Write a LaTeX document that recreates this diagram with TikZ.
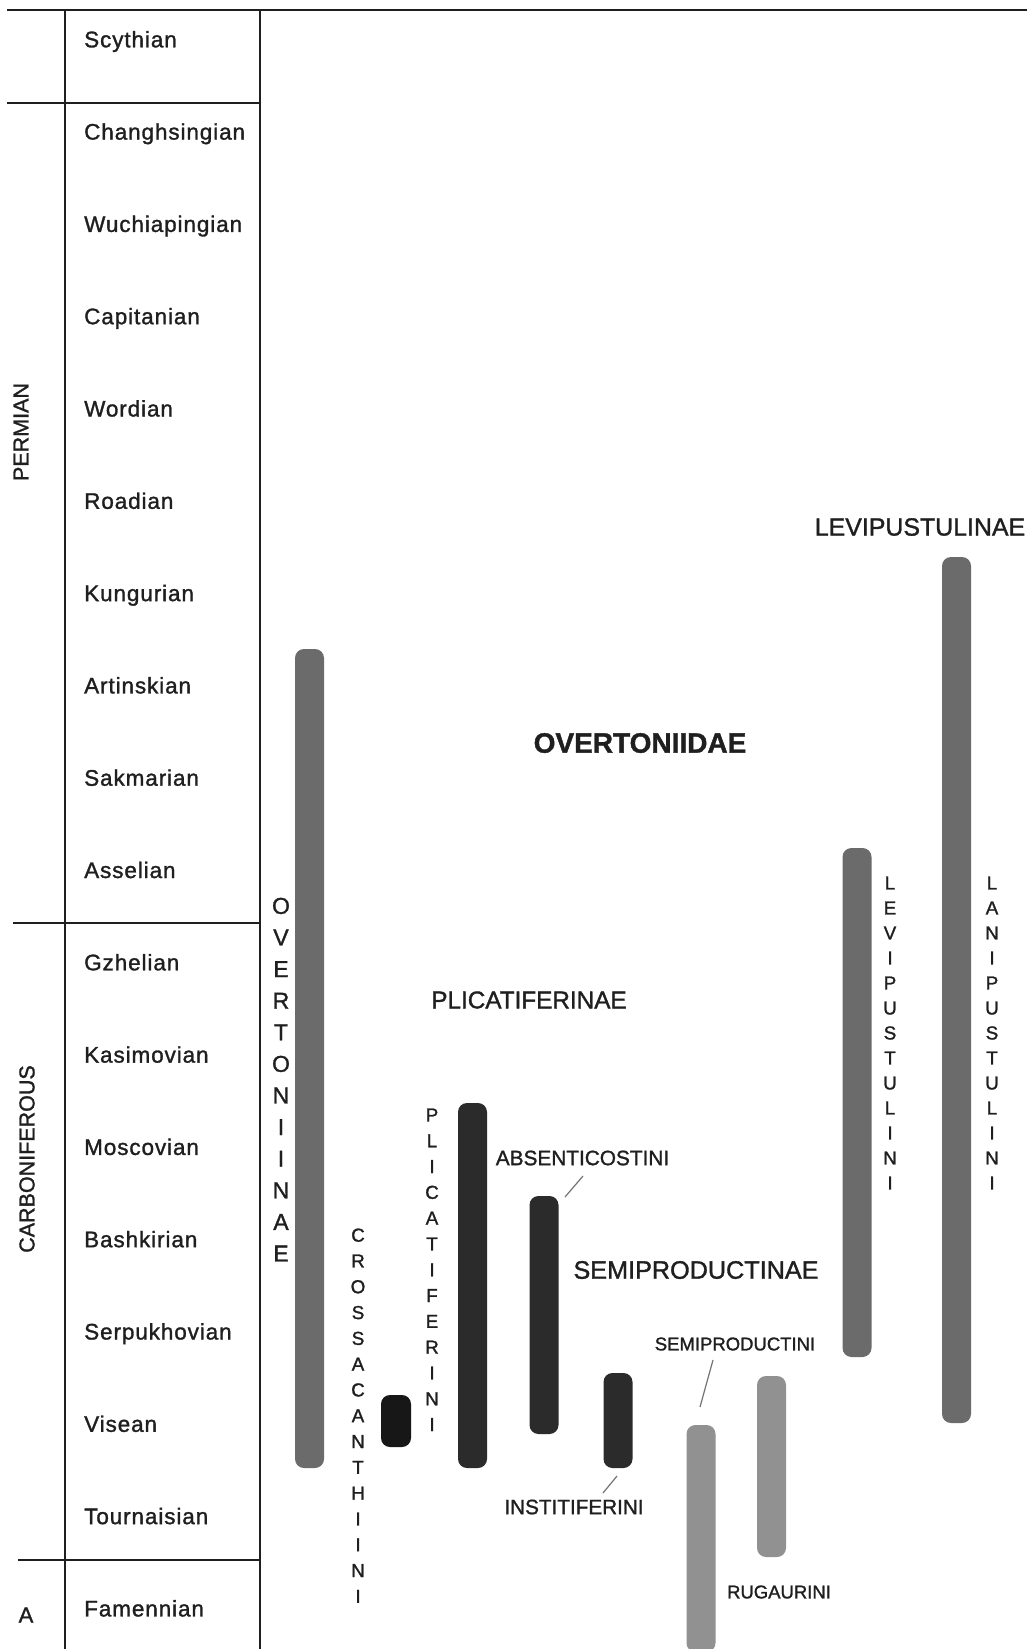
\documentclass[tikz,border=0pt]{standalone}
\usepackage{fontspec}
\setmainfont{Liberation Sans}[FakeBold=1.3]
\newfontfamily\stagefont{Liberation Sans}[LetterSpace=4, FakeBold=1.3]
\usetikzlibrary{positioning}

\definecolor{inkgray}{gray}{0.12}
\definecolor{midbar}{gray}{0.42}
\definecolor{darkbar}{gray}{0.17}
\definecolor{blackbar}{gray}{0.09}
\definecolor{lightbar}{gray}{0.57}
\definecolor{leadgray}{gray}{0.45}

\tikzset{
  rule/.style={line width=1.6pt, inkgray},
  stage/.style={anchor=base west, inner sep=0pt, text=inkgray, font=\stagefont\fontsize{22.5}{27}\selectfont},
  system/.style={rotate=90, inner sep=0pt, text=inkgray, font=\fontsize{21.5}{26}\selectfont},
  bar/.style={rounded corners=9pt, inner sep=0pt, minimum width=29pt},
  stack/.style={anchor=north, align=center, inner sep=0pt, text=inkgray},
  taxon/.style={inner sep=0pt, text=inkgray},
  leader/.style={leadgray, line width=1.2pt}
}

\begin{document}
\begin{tikzpicture}[x=1pt, y=-1pt]
        \useasboundingbox[fill=white] (0,0) rectangle (1027,1649);

        % Time scale
        \draw[rule] (7,10) -- (1027,10);
        \draw[rule] (65,10) -- (65,1649);
        \draw[rule] (260,10) -- (260,1649);
        \draw[rule] (7,103) -- (260,103);
        \draw[rule] (13,923) -- (260,923);
        \draw[rule] (18,1560) -- (260,1560);

        \foreach \st [count=\k from 0] in {Scythian, Changhsingian, Wuchiapingian, Capitanian,
            Wordian, Roadian, Kungurian, Artinskian, Sakmarian, Asselian, Gzhelian, Kasimovian,
            Moscovian, Bashkirian, Serpukhovian, Visean, Tournaisian, Famennian} {
            \node[stage] (st\k) at (84,{47.3+92.3*\k}) {\st};
        }

        \node[system] (permian) at (21,432) {PERMIAN};
        \node[system] (carboniferous) at (27,1159) {CARBONIFEROUS};
        \node[taxon, font=\fontsize{22}{26}\selectfont] (devonian) at (26,1615) {A};

        % Ranges
        \node[bar, fill=midbar, minimum height=819pt] (overtoniinae) at (309.5,1058.5) {};
        \node[bar, fill=blackbar, minimum width=30pt, minimum height=52pt] (crossacanthiini) at (396,1421) {};
        \node[bar, fill=darkbar, minimum height=365pt] (plicatiferini) at (472.5,1285.5) {};
        \node[bar, fill=darkbar, minimum height=238pt] (absenticostini) at (544,1315) {};
        \node[bar, fill=darkbar, minimum height=95pt] (institiferini) at (618,1420.5) {};
        \node[bar, fill=lightbar, minimum height=227pt] (semiproductini) at (701,1538.5) {};
        \node[bar, fill=lightbar, minimum height=181pt] (rugaurini) at (771.5,1466.5) {};
        \node[bar, fill=midbar, minimum height=509pt] (levipustulini) at (857,1102.5) {};
        \node[bar, fill=midbar, minimum height=866pt] (lanipustulini) at (956.5,990) {};

        % Names
        \node[taxon, font=\bfseries\fontsize{28}{32}\selectfont] (family) at (640,743) {OVERTONIIDAE};
        \node[taxon, font=\fontsize{24.3}{29}\selectfont] (plicTitle) at (529,1000) {PLICATIFERINAE};
        \node[taxon, font=\fontsize{25.2}{30}\selectfont] (semiTitle) at (696,1270) {SEMIPRODUCTINAE};
        \node[taxon, font=\fontsize{24.9}{30}\selectfont] (leviTitle) at (920,527) {LEVIPUSTULINAE};
        \node[taxon, font=\fontsize{20.8}{25}\selectfont] (absTxt) at (582.5,1158) {ABSENTICOSTINI};
        \node[taxon, font=\fontsize{18.5}{22}\selectfont] (semiTxt) at (735,1344) {SEMIPRODUCTINI};
        \node[taxon, font=\fontsize{20.7}{25}\selectfont] (instTxt) at (574,1507) {INSTITIFERINI};
        \node[taxon, font=\fontsize{18.5}{22}\selectfont] (rugTxt) at (779,1592) {RUGAURINI};

        \node[stack, font=\fontsize{23}{31.6}\selectfont] (overTxt) at (281,897.6) {O\\V\\E\\R\\T\\O\\N\\I\\I\\N\\A\\E};
        \node[stack, font=\fontsize{18.8}{25.8}\selectfont] (crossTxt) at (358,1228.3) {C\\R\\O\\S\\S\\A\\C\\A\\N\\T\\H\\I\\I\\N\\I};
        \node[stack, font=\fontsize{18.8}{25.8}\selectfont] (plicTxt) at (432,1108.3) {P\\L\\I\\C\\A\\T\\I\\F\\E\\R\\I\\N\\I};
        \node[stack, font=\fontsize{18.8}{25}\selectfont] (leviTxt) at (890,876.3) {L\\E\\V\\I\\P\\U\\S\\T\\U\\L\\I\\N\\I};
        \node[stack, font=\fontsize{18.8}{25}\selectfont] (laniTxt) at (992,876.3) {L\\A\\N\\I\\P\\U\\S\\T\\U\\L\\I\\N\\I};

        % Leaders
        \coordinate (absA) at (583,1176);
        \coordinate (absB) at (565,1197);
        \coordinate (semiA) at (713,1360);
        \coordinate (semiB) at (700,1407);
        \coordinate (instA) at (617,1476);
        \coordinate (instB) at (603,1493);
        \draw[leader] (absA) -- (absB);
        \draw[leader] (semiA) -- (semiB);
        \draw[leader] (instA) -- (instB);

    \end{tikzpicture}
\end{document}
